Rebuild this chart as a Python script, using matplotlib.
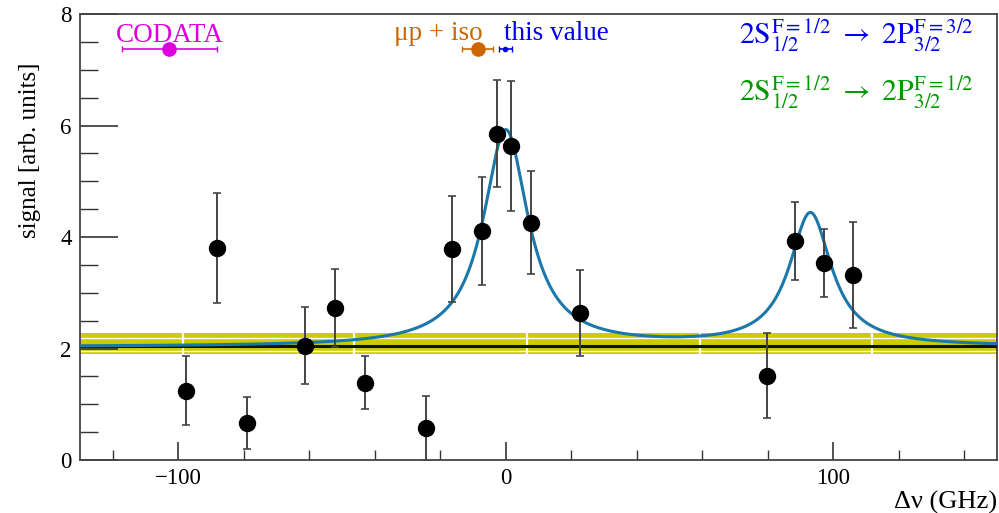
import numpy as np
import matplotlib
matplotlib.use("Agg")
import matplotlib.pyplot as plt
from matplotlib.ticker import MultipleLocator

plt.rcParams["font.family"] = ["Liberation Serif", "DejaVu Serif"]
plt.rcParams["mathtext.fontset"] = "stix"

# measured points (GHz, arb. units)
freq = [-97.5, -88.3, -79.0, -61.2, -52.3, -43.1, -24.5, -16.4, -7.4, -2.8, 1.6,
        7.7, 22.6, 79.6, 88.3, 97.2, 106.1]
signal = [1.24, 3.80, 0.66, 2.05, 2.73, 1.39, 0.57, 3.78, 4.11, 5.85, 5.63,
          4.26, 2.64, 1.51, 3.93, 3.53, 3.32]
signal_err = [0.62, 0.99, 0.47, 0.69, 0.70, 0.47, 0.58, 0.95, 0.97, 0.96, 1.17,
              0.93, 0.77, 0.76, 0.70, 0.61, 0.95]

# fit: flat background + two resonances
bg_level = 2.03
peak_pos = [0.0, 93.0]
peak_amp = [3.88, 2.38]
peak_hwhm = [8.3, 7.8]

# background band
bg_line = 2.04
bg_band = (1.90, 2.28)
bg_inner = (1.96, 2.19)
band_gaps = [-98.7, -46.2, 6.6, 59.4, 111.9]

# reference values drawn at the top
ref_y = 7.38
codata_x, codata_err = -102.7, (14.6, 14.4)
mupiso_x, mupiso_err = -8.6, (4.9, 4.8)
this_x, this_err = -0.2, (1.9, 2.0)


def resonances(x):
    y = np.full_like(x, bg_level)
    for x0, a, g in zip(peak_pos, peak_amp, peak_hwhm):
        y += a / (1 + ((x - x0) / g) ** 2)
    return y


fig = plt.figure(figsize=(9.99, 5.13), dpi=100)
ax = fig.add_axes([0.0801, 0.1033, 0.918, 0.8694])

ax.axhspan(*bg_band, color="#cccc00", lw=0, zorder=1)
for yy in bg_inner:
    ax.axhline(yy, color="white", lw=1.0, zorder=2)
ax.vlines(band_gaps, bg_band[0], bg_band[1], color="white", lw=1.6, zorder=2)
ax.axhline(bg_line, color="#111111", lw=2.2, zorder=3)

xs = np.linspace(-130, 150, 1200)
ax.plot(xs, resonances(xs), color="#1b78aa", lw=2.2, zorder=4)

ax.errorbar(freq, signal, yerr=signal_err, fmt="o", color="black", ms=11.5,
            ecolor="#444444", elinewidth=1.4, capsize=3, capthick=1.2, zorder=5)

# reference markers
ax.errorbar([codata_x], [ref_y], xerr=[[codata_err[0]], [codata_err[1]]], fmt="o",
            color="#dd00dd", ms=9.5, elinewidth=1.2, capsize=2.5, zorder=5)
ax.errorbar([mupiso_x], [ref_y], xerr=[[mupiso_err[0]], [mupiso_err[1]]], fmt="o",
            color="#cc6600", ms=9.5, elinewidth=1.2, capsize=2.5, zorder=5)
ax.errorbar([this_x], [ref_y], xerr=[[this_err[0]], [this_err[1]]], fmt="o",
            color="#0000ee", ms=3, elinewidth=1.2, capsize=2, zorder=5)

ax.text(-102.5, 7.50, "CODATA", color="#dd00dd", fontsize=19.5, ha="center", va="baseline")
ax.text(-20.5, 7.54, "μp + iso", color="#cc6600", fontsize=19.5, ha="center", va="baseline")
ax.text(-0.5, 7.54, "this value", color="#0000ee", fontsize=19.5, ha="left", va="baseline")

ax.text(0.975, 0.953,
        r"$2\mathrm{S}_{1/2}^{\mathrm{F=1/2}}\ \rightarrow\ 2\mathrm{P}_{3/2}^{\mathrm{F=3/2}}$",
        transform=ax.transAxes, color="#0000ee", fontsize=21.5, ha="right", va="center")
ax.text(0.975, 0.825,
        r"$2\mathrm{S}_{1/2}^{\mathrm{F=1/2}}\ \rightarrow\ 2\mathrm{P}_{3/2}^{\mathrm{F=1/2}}$",
        transform=ax.transAxes, color="#009900", fontsize=21.5, ha="right", va="center")

ax.set_xlim(-130, 150)
ax.set_ylim(0, 8)
ax.xaxis.set_major_locator(MultipleLocator(100))
ax.xaxis.set_minor_locator(MultipleLocator(20))
ax.yaxis.set_major_locator(MultipleLocator(2))
ax.yaxis.set_minor_locator(MultipleLocator(0.5))
ax.tick_params(axis="both", which="both", direction="in", colors="#333333",
               labelcolor="black", labelsize=16.5)
ax.tick_params(axis="x", which="major", length=13, width=1.2, pad=6)
ax.tick_params(axis="x", which="minor", length=7, width=1.0)
ax.tick_params(axis="y", which="major", length=27, width=1.2, pad=6)
ax.tick_params(axis="y", which="minor", length=13, width=1.0)
ax.tick_params(top=False, right=False, which="both")
for side in ax.spines.values():
    side.set_color("#444444")
    side.set_linewidth(1.3)

ax.set_ylabel("signal [arb. units]", fontsize=18)
ax.yaxis.set_label_coords(-0.043, 0.695)
ax.set_xlabel("Δν (GHz)", fontsize=19, ha="right")
ax.xaxis.set_label_coords(1.0, -0.07)

fig.savefig("out.png", dpi=100)
